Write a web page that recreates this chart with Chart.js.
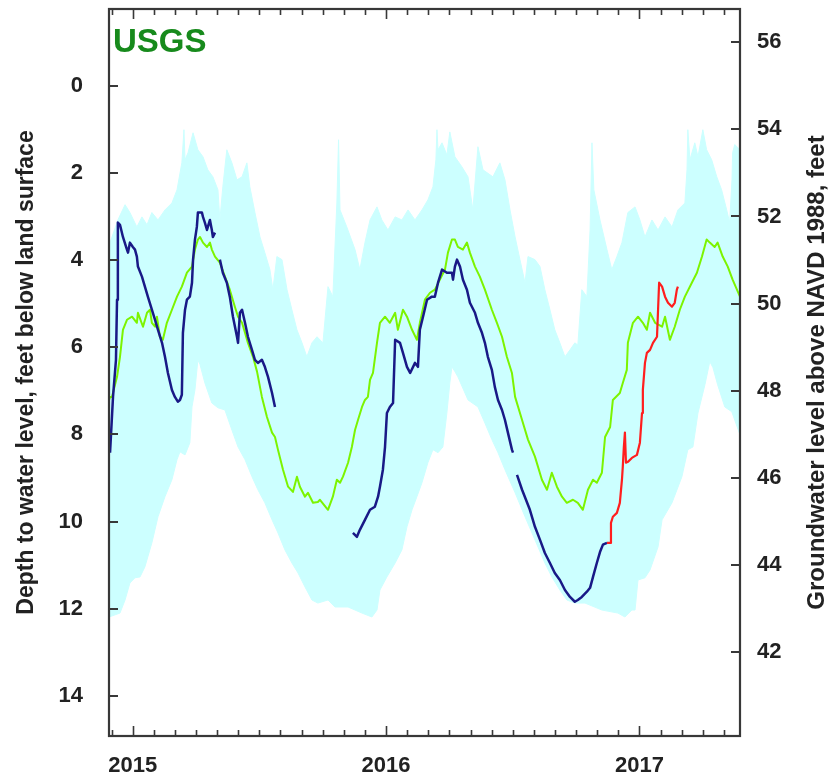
<!DOCTYPE html>
<html>
<head>
<meta charset="utf-8">
<script src="https://cdn.jsdelivr.net/npm/chart.js@4.4.1/dist/chart.umd.min.js"></script>
<style>
html,body{margin:0;padding:0;background:#fff;}
#wrap{position:relative;width:831px;height:778px;}
</style>
</head>
<body>
<div id="wrap"><canvas id="c"></canvas></div>
<script>
// x = months since 1 Jan 2015, y = depth to water level (feet below land surface)
const xMin = -1.12, xMax = 28.76;
const depthMin = -1.76, depthMax = 14.92;
const elevMin = 40.08, elevMax = 56.76;
const yearStarts = [0, 12, 24];
const yearLabels = ['2015', '2016', '2017'];
const brandText = 'USGS';
const leftTitle = 'Depth to water level, feet below land surface';
const rightTitle = 'Groundwater level above NAVD 1988, feet';

// Historical daily range: shallowest (top edge of band)
const envTopX = [-1.12,-1.07,-0.70,-0.36,-0.13,0.20,0.44,0.68,0.91,1.20,1.53,1.86,2.10,2.33,2.43,2.48,2.62,2.86,3.09,3.33,3.56,3.80,4.04,4.13,4.27,4.46,4.70,4.94,5.18,5.41,5.55,5.79,6.03,6.26,6.50,6.64,6.83,7.07,7.31,7.54,7.78,8.02,8.25,8.49,8.73,9.01,9.25,9.48,9.67,9.75,9.82,10.14,10.53,10.76,11.00,11.24,11.57,11.80,12.09,12.43,12.75,13.04,13.37,13.70,13.98,14.22,14.36,14.41,14.46,14.65,14.88,15.02,15.26,15.59,15.88,16.11,16.35,16.59,17.06,17.39,17.63,17.87,18.11,18.34,18.58,18.72,19.05,19.29,19.52,19.76,19.99,20.23,20.47,20.71,20.94,21.08,21.27,21.51,21.66,21.75,21.84,22.13,22.46,22.69,22.93,23.17,23.45,23.79,24.02,24.26,24.59,24.88,25.21,25.54,25.82,26.15,26.25,26.29,26.39,26.62,26.77,27.00,27.18,27.42,27.66,27.89,28.13,28.27,28.38,28.41,28.51,28.76];
const envTopY = [3.65,3.60,3.08,2.73,2.91,3.24,3.01,3.19,2.91,3.08,2.85,2.69,2.39,1.77,1.01,1.70,1.54,1.08,1.47,1.63,1.93,2.09,2.39,3.08,2.32,1.47,1.77,2.16,2.09,1.77,2.32,2.91,3.47,3.83,4.22,4.68,3.92,3.99,4.68,5.14,5.60,5.90,6.22,5.90,5.76,5.90,4.61,4.84,2.69,1.24,2.85,3.24,3.76,4.22,3.60,3.08,2.78,3.08,3.31,3.01,3.08,2.85,3.08,2.85,2.62,2.32,1.70,1.01,1.47,1.31,1.59,1.06,1.63,1.86,2.09,2.85,1.40,1.93,2.09,1.77,2.16,2.85,3.47,3.99,4.52,3.92,3.99,4.15,4.68,5.14,5.60,5.90,6.22,6.06,5.90,5.95,4.68,4.84,3.31,1.31,2.39,3.08,3.76,4.22,3.92,3.60,2.91,2.78,3.08,3.47,3.08,3.31,3.01,3.24,2.85,2.69,1.93,1.01,1.70,1.31,1.63,1.01,1.47,1.70,2.09,2.39,2.85,3.14,2.16,1.54,1.35,1.47];

// Historical daily range: deepest (bottom edge of band)
const envBotX = [-1.12,-0.60,-0.36,-0.13,0.11,0.35,0.58,0.91,1.20,1.53,1.86,2.10,2.24,2.48,2.71,2.81,2.95,3.09,3.19,3.42,3.75,4.04,4.37,4.70,4.99,5.32,5.65,5.93,6.26,6.60,6.88,7.21,7.54,7.83,8.16,8.49,8.77,9.25,9.58,10.20,10.86,11.33,11.57,11.71,12.04,12.43,12.75,12.99,13.23,13.46,13.70,13.98,14.22,14.46,14.69,14.88,15.02,15.12,15.26,15.40,15.88,16.35,16.68,17.01,17.30,17.63,18.11,18.58,19.05,19.52,19.85,20.23,20.56,20.94,21.42,22.22,22.98,23.31,23.64,23.79,23.93,24.26,24.50,24.88,25.07,25.54,26.01,26.29,26.53,26.77,27.10,27.33,27.48,27.70,28.04,28.37,28.76];
const envBotY = [12.19,12.10,11.80,11.41,11.29,11.27,11.04,10.49,9.89,9.43,9.04,8.58,8.40,8.47,8.19,7.37,6.98,6.29,6.40,6.82,7.28,7.39,7.44,7.90,8.29,8.58,8.97,9.27,9.57,9.96,10.26,10.65,10.95,11.18,11.50,11.80,11.87,11.80,11.96,11.96,12.10,12.19,12.03,11.57,11.27,10.95,10.65,10.12,9.73,9.43,9.11,8.65,8.35,8.42,8.29,7.51,6.82,6.45,6.56,6.68,7.21,7.37,7.74,8.12,8.42,8.81,9.34,9.89,10.42,10.95,11.27,11.57,11.80,11.87,11.87,12.03,12.10,12.19,12.03,12.03,11.34,11.29,11.11,10.58,9.96,9.57,8.97,8.35,8.29,7.51,6.86,6.33,6.47,6.86,7.37,7.48,8.01];

// Median daily value (green)
const medianX = [-1.12,-1.07,-0.98,-0.74,-0.60,-0.46,-0.27,-0.03,0.20,0.25,0.49,0.68,0.82,0.91,1.06,1.15,1.29,1.43,1.62,1.86,2.10,2.33,2.57,2.81,2.95,3.09,3.19,3.33,3.52,3.66,3.75,3.90,4.13,4.37,4.60,4.84,4.99,5.18,5.32,5.46,5.70,5.89,6.12,6.36,6.60,6.74,6.88,7.12,7.36,7.59,7.78,7.92,8.16,8.30,8.54,8.77,8.87,9.25,9.48,9.67,9.82,9.96,10.20,10.38,10.53,10.67,10.86,11.00,11.14,11.24,11.38,11.57,11.71,11.95,12.18,12.43,12.56,12.80,12.99,13.23,13.46,13.60,13.84,14.08,14.31,14.55,14.79,14.93,15.12,15.26,15.40,15.64,15.83,15.97,16.21,16.44,16.68,17.01,17.25,17.49,17.72,17.96,18.11,18.44,18.72,19.05,19.38,19.62,19.85,20.09,20.33,20.56,20.85,21.08,21.32,21.56,21.80,21.98,22.22,22.37,22.61,22.74,23.07,23.21,23.40,23.45,23.69,23.93,24.16,24.35,24.50,24.74,25.07,25.21,25.44,25.67,25.91,26.15,26.48,26.72,26.96,27.18,27.33,27.56,27.70,27.94,28.18,28.41,28.76];
const medianY = [7.21,7.14,7.14,6.68,6.22,5.60,5.37,5.30,5.44,5.21,5.53,5.21,5.14,5.44,5.53,5.30,5.76,5.83,5.44,5.14,4.84,4.61,4.29,4.15,3.76,3.53,3.47,3.60,3.70,3.60,3.76,3.92,4.06,4.38,4.68,5.07,5.30,5.44,5.67,5.90,6.22,6.56,7.14,7.60,7.96,8.06,8.35,8.81,9.20,9.32,8.97,9.20,9.43,9.34,9.57,9.55,9.50,9.73,9.43,9.04,9.11,8.97,8.65,8.29,7.90,7.67,7.37,7.21,7.14,6.75,6.59,5.90,5.44,5.30,5.44,5.21,5.60,5.14,5.30,5.60,5.83,5.44,4.91,4.75,4.68,4.45,4.22,3.83,3.53,3.53,3.70,3.76,3.60,3.83,4.15,4.38,4.68,5.14,5.44,5.76,6.22,6.59,7.14,7.67,8.12,8.51,9.04,9.27,8.88,9.20,9.43,9.57,9.50,9.57,9.73,9.27,9.04,9.11,8.88,8.06,7.83,7.21,7.05,6.82,6.52,5.90,5.44,5.30,5.44,5.60,5.21,5.44,5.53,5.30,5.83,5.53,5.14,4.84,4.52,4.29,3.92,3.53,3.60,3.70,3.60,3.92,4.15,4.45,4.84];

// Approved daily values (dark blue), null = gap in record
const dailyX = [-1.07,-0.93,-0.79,-0.74,-0.70,-0.60,-0.46,-0.27,-0.22,-0.13,0.01,0.11,0.20,0.25,0.44,0.58,0.72,0.91,1.06,1.20,1.39,1.53,1.67,1.86,2.00,2.14,2.24,2.33,2.38,2.48,2.57,2.71,2.81,2.86,2.95,3.04,3.09,3.28,3.33,3.42,3.52,3.66,3.75,3.80,3.90,4.00,4.13,4.27,4.46,4.60,4.75,4.94,4.99,5.08,5.18,5.32,5.46,5.65,5.79,5.93,6.12,6.26,6.41,6.60,6.74,8.00,10.43,10.62,10.76,11.00,11.24,11.47,11.62,11.71,11.85,11.95,12.04,12.18,12.33,12.43,12.66,12.80,12.99,13.14,13.37,13.51,13.60,13.75,13.94,14.17,14.31,14.46,14.65,14.88,15.12,15.17,15.26,15.36,15.50,15.64,15.83,15.97,16.21,16.35,16.54,16.68,16.82,17.01,17.15,17.30,17.49,17.63,17.77,17.96,18.01,18.10,18.20,18.44,18.81,19.05,19.29,19.52,19.76,19.99,20.23,20.47,20.71,20.94,21.08,21.27,21.51,21.66,21.80,21.98,22.13,22.27,22.46];
const dailyY = [8.42,7.14,6.29,4.91,3.14,3.19,3.47,3.76,3.83,3.60,3.70,3.76,3.92,4.15,4.38,4.61,4.84,5.14,5.37,5.60,5.90,6.22,6.59,6.98,7.14,7.25,7.21,7.09,5.67,5.14,4.91,4.84,4.52,3.99,3.53,3.24,2.91,2.91,3.01,3.14,3.31,3.08,3.31,3.47,3.37,null,3.99,4.29,4.52,4.84,5.30,5.76,5.90,5.21,5.14,5.44,5.76,6.06,6.29,6.36,6.29,6.45,6.68,7.05,7.37,null,10.26,10.35,10.19,9.96,9.73,9.66,9.43,9.20,8.81,8.29,7.51,7.37,7.28,5.83,5.90,6.13,6.45,6.59,6.36,6.45,5.60,5.30,4.91,4.84,4.84,4.52,4.22,4.29,4.29,4.45,4.15,3.99,4.15,4.45,4.68,4.98,5.21,5.44,5.67,5.90,6.22,6.52,6.91,7.21,7.44,7.67,7.96,8.35,8.42,null,8.93,9.27,9.73,10.12,10.42,10.72,10.95,11.18,11.34,11.57,11.73,11.84,11.80,11.73,11.61,11.52,11.27,10.95,10.70,10.53,10.49];

// Provisional recent values (red)
const recentX = [22.46,22.61,22.65,22.74,22.93,23.07,23.17,23.21,23.26,23.31,23.36,23.45,23.64,23.88,24.02,24.12,24.16,24.26,24.35,24.50,24.64,24.83,24.88,24.93,25.07,25.21,25.35,25.54,25.67,25.77,25.82];
const recentY = [10.49,10.49,10.03,9.89,9.80,9.57,9.04,8.74,8.29,7.96,8.65,8.63,8.54,8.47,8.19,7.51,6.98,6.36,6.13,6.06,5.90,5.76,5.14,4.52,4.61,4.84,4.98,5.07,4.98,4.68,4.61];

const pts = (xs, ys) => xs.map((x, i) => ({x: x, y: ys[i]}));
const FONT = '"Liberation Sans", Arial, Helvetica, sans-serif';
const INK = '#222222';

const noPad = (s) => { s.paddingTop = 0; s.paddingBottom = 0; s.paddingLeft = 0; s.paddingRight = 0; };

const framePlugin = {
  id: 'frameAndLabels',
  afterDraw(chart) {
    const ctx = chart.ctx;
    const a = chart.chartArea;
    const sx = chart.scales.x, sy = chart.scales.y, sy2 = chart.scales.y2;
    ctx.save();
    ctx.strokeStyle = '#383838';
    ctx.lineWidth = 2;
    ctx.beginPath();
    sy.ticks.forEach(t => {
      const p = Math.round(sy.getPixelForValue(t.value));
      ctx.moveTo(a.left, p); ctx.lineTo(a.left + 9, p);
    });
    sy2.ticks.forEach(t => {
      const p = Math.round(sy2.getPixelForValue(t.value));
      ctx.moveTo(a.right - 9, p); ctx.lineTo(a.right, p);
    });
    ctx.stroke();
    ctx.lineWidth = 1.6;
    ctx.beginPath();
    sx.ticks.forEach(t => {
      const p = Math.round(sx.getPixelForValue(t.value)) + 0.5;
      const len = yearStarts.includes(t.value) ? 10 : 6;
      ctx.moveTo(p, a.bottom); ctx.lineTo(p, a.bottom - len);
      ctx.moveTo(p, a.top); ctx.lineTo(p, a.top + len);
    });
    ctx.stroke();
    ctx.lineWidth = 2.2;
    ctx.strokeRect(a.left, a.top, a.right - a.left, a.bottom - a.top);

    ctx.fillStyle = '#178a1c';
    ctx.font = 'bold 33px ' + FONT;
    ctx.textAlign = 'left';
    ctx.textBaseline = 'alphabetic';
    ctx.fillText(brandText, a.left + 4, 52);

    ctx.translate(817, (a.top + a.bottom) / 2);
    ctx.rotate(-Math.PI / 2);
    ctx.fillStyle = INK;
    ctx.font = 'bold 24px ' + FONT;
    ctx.textAlign = 'center';
    ctx.textBaseline = 'middle';
    ctx.fillText(rightTitle, 0, 0);
    ctx.restore();
  }
};

new Chart(document.getElementById('c'), {
  type: 'line',
  data: {
    datasets: [
      {label: 'Historical range (shallowest)', data: pts(envTopX, envTopY), fill: '+1', backgroundColor: '#ccffff', borderColor: '#ccffff', borderWidth: 1, pointRadius: 0, order: 4},
      {label: 'Historical range (deepest)', data: pts(envBotX, envBotY), fill: false, borderColor: '#ccffff', borderWidth: 1, pointRadius: 0, order: 3},
      {label: 'Median', data: pts(medianX, medianY), borderColor: '#7cf400', borderWidth: 2, pointRadius: 0, order: 2},
      {label: 'Daily value', data: pts(dailyX, dailyY), borderColor: '#191986', borderWidth: 2.5, pointRadius: 0, order: 1},
      {label: 'Provisional', data: pts(recentX, recentY), borderColor: '#ff1e1e', borderWidth: 2.2, pointRadius: 0, order: 0}
    ]
  },
  options: {
    responsive: true,
    maintainAspectRatio: false,
    animation: false,
    devicePixelRatio: 1,
    spanGaps: false,
    layout: {padding: {top: 9, left: 0, right: 0, bottom: 0}},
    elements: {line: {tension: 0, borderJoinStyle: 'round'}},
    plugins: {legend: {display: false}, tooltip: {enabled: false}},
    scales: {
      x: {
        type: 'linear', min: xMin, max: xMax,
        grid: {display: false, drawTicks: false},
        border: {display: false},
        ticks: {
          stepSize: 1, autoSkip: false, maxRotation: 0, minRotation: 0, includeBounds: false,
          padding: 17, color: INK, font: {family: FONT, size: 22, weight: 'bold'},
          callback: (v) => { const i = yearStarts.indexOf(v); return i >= 0 ? yearLabels[i] : ''; }
        },
        afterFit: (s) => { s.height = 42; noPad(s); }
      },
      y: {
        position: 'left', reverse: true, min: depthMin, max: depthMax,
        grid: {display: false, drawTicks: false},
        border: {display: false},
        ticks: {stepSize: 2, includeBounds: false, padding: 26, color: INK, font: {family: FONT, size: 22, weight: 'bold'}},
        title: {display: true, text: leftTitle, color: INK, font: {family: FONT, size: 23, weight: 'bold'}, padding: {top: 13, bottom: 0}},
        afterFit: (s) => { s.width = 109; noPad(s); }
      },
      y2: {
        position: 'right', min: elevMin, max: elevMax,
        grid: {display: false, drawTicks: false},
        border: {display: false},
        ticks: {stepSize: 2, includeBounds: false, padding: 17, color: INK, font: {family: FONT, size: 22, weight: 'bold'}},
        afterFit: (s) => { s.width = 91; noPad(s); }
      }
    }
  },
  plugins: [framePlugin]
});
</script>
</body>
</html>
